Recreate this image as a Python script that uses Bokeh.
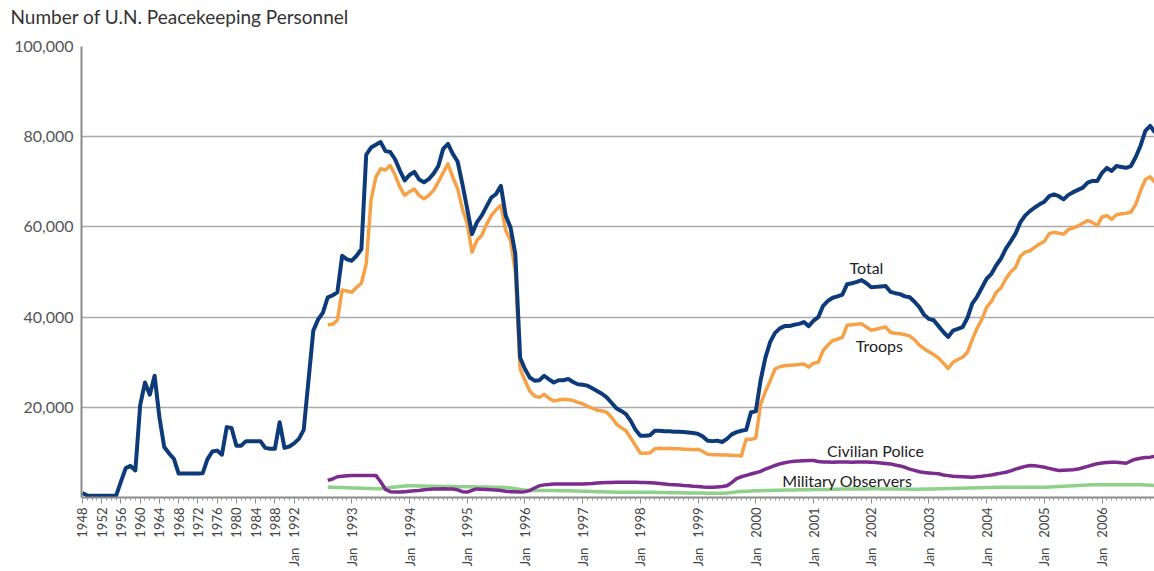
import math
from bokeh.plotting import figure
from bokeh.models import FixedTicker, NumeralTickFormatter, Range1d, ColumnDataSource, Title
from bokeh.core.properties import value
from bokeh.embed import file_html
from bokeh.resources import INLINE

# ---------------- data ----------------
years_annual = list(range(1948, 1992))
months = ["Jan", "Feb", "Mar", "Apr", "May", "Jun", "Jul", "Aug", "Sep", "Oct", "Nov", "Dec"]
years_monthly = list(range(1992, 2007))
categories = [str(y) for y in years_annual] + [f"{m} {y}" for y in years_monthly for m in months]

# Total personnel, annual 1948-1991
total_annual = [1000, 450, 400, 400, 400, 400, 400, 400, 3500, 6500, 7000, 6000,
                20500, 25500, 22800, 27000, 17800, 11200, 9800, 8600, 5300, 5300,
                5300, 5300, 5300, 5400, 8500, 10200, 10400, 9500, 15600, 15400,
                11500, 11500, 12500, 12500, 12500, 12500, 11000, 10800, 10800,
                16700, 11000, 11300]

# Total personnel, monthly Jan 1992 - Dec 2006
total_monthly = [
    12000, 13000, 15000, 26000, 37000, 39500, 41000, 44400, 44800, 45500, 53600, 52800,  # 1992
    52500, 53600, 55100, 76000, 77600, 78200, 78800, 76800, 76600, 75000, 72500, 70300,  # 1993
    71500, 72200, 70500, 69900, 70600, 71800, 73500, 77300, 78400, 76200, 74500, 69500,  # 1994
    64000, 58400, 61000, 62500, 64500, 66500, 67300, 69100, 62500, 59900, 54000, 31000,  # 1995
    28500, 26600, 25900, 26000, 27000, 26200, 25500, 26000, 26000, 26300, 25600, 25100,  # 1996
    25000, 24800, 24200, 23600, 23000, 22200, 21000, 19800, 19200, 18500, 17000, 15000,  # 1997
    13700, 13700, 13800, 14800, 14800, 14700, 14700, 14600, 14600, 14500, 14400, 14300,  # 1998
    14100, 13500, 12600, 12500, 12600, 12300, 13000, 14000, 14500, 14800, 15000, 18900,  # 1999
    19100, 26000, 31000, 34500, 36500, 37500, 38000, 38000, 38300, 38500, 38900, 38000,  # 2000
    39200, 40000, 42500, 43600, 44300, 44600, 45000, 47300, 47500, 47800, 48200, 47500,  # 2001
    46600, 46700, 46800, 46900, 45600, 45300, 45100, 44600, 44400, 43400, 42200, 40500,  # 2002
    39600, 39300, 38000, 36700, 35600, 37000, 37400, 37800, 39800, 43000, 44500, 46500,  # 2003
    48500, 49600, 51500, 53000, 55200, 56800, 58500, 61000, 62500, 63500, 64300, 65000,  # 2004
    65600, 66800, 67200, 66800, 66100, 67100, 67700, 68200, 68700, 69800, 70200, 70200,  # 2005
    72000, 73100, 72400, 73500, 73300, 73100, 73500, 75500, 78000, 81300, 82400, 80900,  # 2006
]

# Components, monthly Aug 1992 - Dec 2006
component_start = "Aug 1992"
troops_monthly = [
    38300, 38400, 39300, 46000, 45800,                                                   # 1992
    45500, 46600, 47500, 51800, 66000, 71000, 72900, 72600, 73600, 71500, 68800, 67000,  # 1993
    67800, 68400, 67000, 66200, 67000, 68100, 70000, 72000, 74000, 71000, 68500, 64000,  # 1994
    60700, 54400, 57000, 58100, 60500, 62500, 63800, 64800, 59200, 57000, 50000, 28500,  # 1995
    26000, 23600, 22500, 22200, 22900, 22000, 21400, 21600, 21800, 21700, 21500, 21100,  # 1996
    20800, 20200, 19800, 19400, 19200, 18900, 17800, 16300, 15500, 14800, 13200, 11500,  # 1997
    9800, 9800, 9900, 10800, 10900, 10800, 10900, 10800, 10800, 10700, 10700, 10600,     # 1998
    10700, 10200, 9600, 9500, 9500, 9400, 9400, 9300, 9300, 9200, 12900, 12900,          # 1999
    13200, 20700, 23500, 25900, 28500, 29000, 29200, 29300, 29400, 29500, 29600, 28900,  # 2000
    29800, 30000, 32600, 33800, 34800, 35100, 35500, 38200, 38300, 38400, 38500, 37800,  # 2001
    37100, 37300, 37600, 37800, 36600, 36400, 36300, 36100, 35800, 35000, 33800, 33000,  # 2002
    32300, 31700, 30900, 29800, 28600, 30000, 30600, 31100, 32200, 35000, 37500, 39500,  # 2003
    42200, 43500, 45500, 46500, 48500, 50000, 51000, 53500, 54400, 54700, 55500, 56200,  # 2004
    56800, 58500, 58800, 58600, 58400, 59400, 59800, 60200, 60800, 61400, 61000, 60300,  # 2005
    62200, 62500, 61700, 62700, 62900, 63000, 63300, 65000, 68000, 70500, 71100, 69900,  # 2006
]
police_monthly = [
    3800, 4100, 4600, 4700, 4800,                                                        # 1992
    4900, 4900, 4900, 4900, 4900, 4900, 3500, 1800, 1300, 1200, 1200, 1300,              # 1993
    1400, 1500, 1550, 1700, 1800, 1900, 1900, 1950, 1900, 1900, 1700, 1300,              # 1994
    1200, 1600, 1900, 1850, 1800, 1700, 1650, 1550, 1400, 1300, 1250, 1200,              # 1995
    1300, 1550, 2100, 2600, 2800, 2900, 3000, 3000, 3000, 3000, 3000, 3000,              # 1996
    3000, 3050, 3100, 3200, 3250, 3300, 3350, 3400, 3400, 3400, 3400, 3400,              # 1997
    3350, 3300, 3250, 3200, 3100, 3000, 2900, 2850, 2750, 2650, 2600, 2500,              # 1998
    2450, 2350, 2300, 2250, 2350, 2450, 2600, 3300, 4200, 4600, 4900, 5200,              # 1999
    5500, 5800, 6300, 6700, 7100, 7450, 7700, 7900, 8050, 8100, 8150, 8200,              # 2000
    8200, 8000, 7850, 7850, 7800, 7850, 7850, 7850, 7800, 7850, 7850, 7850,              # 2001
    7800, 7750, 7650, 7550, 7450, 7200, 7000, 6700, 6300, 6000, 5700, 5550,              # 2002
    5450, 5350, 5250, 5000, 4850, 4700, 4650, 4600, 4550, 4500, 4600, 4700,              # 2003
    4850, 5000, 5200, 5400, 5600, 5900, 6300, 6600, 6900, 7100, 7050, 6900,              # 2004
    6700, 6450, 6200, 6000, 6050, 6100, 6150, 6300, 6600, 6900, 7200, 7500,              # 2005
    7650, 7750, 7830, 7800, 7700, 7600, 8100, 8500, 8700, 8850, 8950, 9100,              # 2006
]
observers_monthly = [
    2250, 2250, 2200, 2200, 2150,                                                        # 1992
    2100, 2100, 2050, 2000, 2000, 1950, 1950, 2050, 2200, 2350, 2450, 2550,              # 1993
    2600, 2600, 2550, 2550, 2500, 2500, 2500, 2450, 2450, 2450, 2400, 2400,              # 1994
    2400, 2400, 2350, 2350, 2350, 2300, 2300, 2250, 2200, 2100, 1950, 1800,              # 1995
    1650, 1550, 1550, 1550, 1550, 1550, 1550, 1500, 1500, 1500, 1450, 1450,              # 1996
    1400, 1400, 1350, 1300, 1250, 1200, 1200, 1180, 1180, 1180, 1180, 1180,              # 1997
    1180, 1180, 1180, 1150, 1100, 1100, 1050, 1050, 1030, 1030, 1000, 1000,              # 1998
    1000, 980, 970, 960, 960, 960, 980, 1100, 1250, 1350, 1400, 1450,                    # 1999
    1500, 1500, 1550, 1550, 1600, 1600, 1650, 1650, 1650, 1700, 1700, 1700,              # 2000
    1750, 1750, 1800, 1800, 1850, 1850, 1900, 1900, 1900, 1900, 1900, 1900,              # 2001
    1920, 1920, 1900, 1900, 1900, 1900, 1900, 1900, 1850, 1850, 1850, 1900,              # 2002
    1900, 1900, 1920, 1950, 2000, 2000, 2050, 2050, 2100, 2100, 2150, 2150,              # 2003
    2200, 2200, 2250, 2250, 2250, 2250, 2250, 2250, 2250, 2250, 2250, 2260,              # 2004
    2300, 2350, 2400, 2450, 2500, 2550, 2600, 2650, 2700, 2750, 2800, 2800,              # 2005
    2850, 2850, 2850, 2850, 2850, 2850, 2850, 2850, 2800, 2750, 2700, 2650,              # 2006
]

tick_labels = ["1948", "1952", "1956", "1960", "1964", "1968", "1972", "1976", "1980",
               "1984", "1988", "Jan 1992", "Jan 1993", "Jan 1994", "Jan 1995", "Jan 1996",
               "Jan 1997", "Jan 1998", "Jan 1999", "Jan 2000", "Jan 2001", "Jan 2002",
               "Jan 2003", "Jan 2004", "Jan 2005", "Jan 2006"]

series_names = ["Total", "Troops", "Civilian Police", "Military Observers"]
chart_title = "Number of U.N. Peacekeeping Personnel"

# ---------------- build ----------------
total_values = total_annual + total_monthly
assert len(total_values) == len(categories), (len(total_values), len(categories))
start = categories.index(component_start)
for arr in (troops_monthly, police_monthly, observers_monthly):
    assert len(arr) == len(categories) - start, len(arr)

xs_total = list(range(len(categories)))
xs_comp = list(range(start, len(categories)))

p = figure(width=1154, height=571,
           x_range=Range1d(-0.2, 222.9), y_range=Range1d(0, 100000),
           output_backend="svg", toolbar_location=None,
           min_border_left=81, min_border_top=46, min_border_bottom=74, min_border_right=0)
p.outline_line_color = None
p.background_fill_color = "white"
p.border_fill_color = "white"

# spacer panel between title and plot frame
p.add_layout(Title(text="\u00a0", text_font_size="1px", standoff=10), "above")

p.title.text = chart_title
p.title.align = "left"
p.title.vertical_align = "top"
p.title.offset = -71
p.title.standoff = 8
p.title.text_font = "Lato"
p.title.text_font_size = "19px"
p.title.text_font_style = "normal"
p.title.text_color = "#333333"

colors = {"Total": "#0d3b7a", "Troops": "#f7a147",
          "Civilian Police": "#7b2c8e", "Military Observers": "#8fd08a"}

p.line(xs_comp, observers_monthly, line_color=colors["Military Observers"], line_width=3.5, line_join="round")
p.line(xs_comp, police_monthly, line_color=colors["Civilian Police"], line_width=3.5, line_join="round")
p.line(xs_comp, troops_monthly, line_color=colors["Troops"], line_width=3.5, line_join="round")
p.line(xs_total, total_values, line_color=colors["Total"], line_width=4, line_join="round")

# series labels (annotation positions)
label_pos = {"Total": (163.0, 51000), "Troops": (165.7, 33700),
             "Civilian Police": (164.9, 10400), "Military Observers": (159.0, 3800)}
src = ColumnDataSource(dict(x=[label_pos[n][0] for n in series_names],
                            y=[label_pos[n][1] for n in series_names],
                            t=series_names))
p.text(x="x", y="y", text="t", source=src, text_align="center", text_baseline="middle",
       text_font=value("Lato"), text_font_size="16px", text_color="#222222")

# y axis
yt = [20000, 40000, 60000, 80000, 100000]
p.yaxis.ticker = FixedTicker(ticks=yt)
p.yaxis.formatter = NumeralTickFormatter(format="0,0")
p.yaxis.major_tick_out = 0
p.yaxis.major_tick_in = 0
p.yaxis.minor_tick_line_color = None
p.yaxis.axis_line_color = "#8a8a8a"
p.yaxis.axis_line_width = 2
p.yaxis.major_label_text_font = "Lato"
p.yaxis.major_label_text_font_size = "16px"
p.yaxis.major_label_text_color = "#555555"
p.yaxis.major_label_standoff = 8
p.ygrid.ticker = FixedTicker(ticks=yt)
p.ygrid.grid_line_color = "#aaaaaa"
p.ygrid.grid_line_width = 1.5

# x axis
tick_pos = [categories.index(lbl) for lbl in tick_labels]
p.xaxis.ticker = FixedTicker(ticks=tick_pos, minor_ticks=xs_total)
p.xaxis.major_label_overrides = {pos: lbl.replace("Jan ", "Jan\u00a0\u00a0\u00a0")
                                 for pos, lbl in zip(tick_pos, tick_labels)}
p.xaxis.major_label_orientation = math.pi / 2
p.xaxis.major_tick_out = 6
p.xaxis.major_tick_in = 0
p.xaxis.minor_tick_out = 3
p.xaxis.minor_tick_in = 0
p.xaxis.major_tick_line_color = "#8a8a8a"
p.xaxis.minor_tick_line_color = "#9a9a9a"
p.xaxis.axis_line_color = "#8a8a8a"
p.xaxis.axis_line_width = 2
p.xaxis.major_label_text_font = "Lato"
p.xaxis.major_label_text_font_size = "13px"
p.xaxis.major_label_text_color = "#444444"
p.xaxis.major_label_standoff = 4
p.xgrid.visible = False

open("out.html", "w").write(file_html(p, INLINE))
